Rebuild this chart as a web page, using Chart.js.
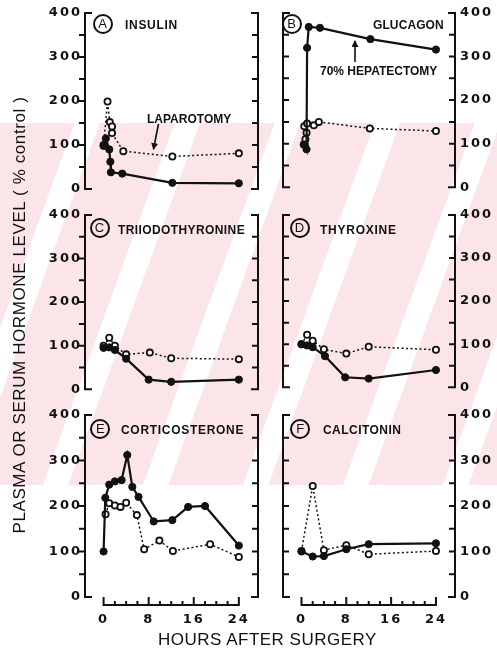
<!DOCTYPE html>
<html>
<head>
<meta charset="utf-8">
<script src="https://cdn.jsdelivr.net/npm/chart.js@4/dist/chart.umd.min.js"></script>
<style>
html,body{margin:0;padding:0;background:#fff;}
#wrap{position:relative;width:497px;height:652px;overflow:hidden;background:#fff;}
.wm{position:absolute;left:0;top:123px;width:497px;height:362px;
  background:repeating-linear-gradient(110deg,#fce5e8 0 70px,#ffffff 70px 94px);}
canvas{position:absolute;}
.lbl{position:absolute;font-family:"Liberation Sans",Arial,sans-serif;font-weight:bold;font-size:12px;line-height:12px;color:#111;white-space:nowrap;}
.circ{position:absolute;box-sizing:border-box;width:20px;height:20px;border:2px solid #111;border-radius:50%;
  font-family:"Liberation Sans",Arial,sans-serif;font-size:13px;line-height:16px;text-align:center;color:#111;}
.ytitle{position:absolute;left:-200px;top:305px;width:440px;height:20px;line-height:20px;text-align:center;
  font-family:"Liberation Sans",Arial,sans-serif;font-size:17px;letter-spacing:0.6px;color:#111;white-space:nowrap;
  transform:rotate(-90deg);}
.xtitle{position:absolute;left:158px;top:630px;height:20px;line-height:20px;
  font-family:"Liberation Sans",Arial,sans-serif;font-size:17px;letter-spacing:0.5px;color:#111;white-space:nowrap;}
</style>
</head>
<body>
<div id="wrap">
  <div class="wm"></div>
  <canvas id="cA" width="270" height="200" style="left:0px;top:0px"></canvas>
  <canvas id="cB" width="227" height="200" style="left:270px;top:0px"></canvas>
  <canvas id="cC" width="270" height="200" style="left:0px;top:200px"></canvas>
  <canvas id="cD" width="227" height="200" style="left:270px;top:200px"></canvas>
  <canvas id="cE" width="270" height="252" style="left:0px;top:400px"></canvas>
  <canvas id="cF" width="227" height="252" style="left:270px;top:400px"></canvas>

  <div class="circ" style="left:92.5px;top:14px">A</div>
  <div class="lbl" style="left:125px;top:19px;letter-spacing:0.7px">INSULIN</div>
  <div class="lbl" style="left:147px;top:112.5px;letter-spacing:0px">LAPAROTOMY</div>

  <div class="circ" style="left:281.5px;top:14px">B</div>
  <div class="lbl" style="left:373px;top:18.5px;letter-spacing:0.1px">GLUCAGON</div>
  <div class="lbl" style="left:320px;top:65px;letter-spacing:0px">70% HEPATECTOMY</div>

  <div class="circ" style="left:89.5px;top:217.5px">C</div>
  <div class="lbl" style="left:118px;top:223.5px;letter-spacing:0.4px">TRIIODOTHYRONINE</div>

  <div class="circ" style="left:289.5px;top:218px">D</div>
  <div class="lbl" style="left:320px;top:223.5px;letter-spacing:0.75px">THYROXINE</div>

  <div class="circ" style="left:90.3px;top:418.7px">E</div>
  <div class="lbl" style="left:121px;top:423.5px;letter-spacing:0.7px">CORTICOSTERONE</div>

  <div class="circ" style="left:290.3px;top:419px">F</div>
  <div class="lbl" style="left:323px;top:423.5px;letter-spacing:0.45px">CALCITONIN</div>

  <div class="ytitle">PLASMA OR SERUM HORMONE LEVEL ( % control )</div>
  <div class="xtitle">HOURS AFTER SURGERY</div>

  <svg width="497" height="652" style="position:absolute;left:0;top:0;pointer-events:none">
    <defs>
      <marker id="ah" markerUnits="userSpaceOnUse" markerWidth="7" markerHeight="7" refX="6" refY="3.5" orient="auto">
        <path d="M0,0 L7,3.5 L0,7 z" fill="#111"/>
      </marker>
    </defs>
    <line x1="158.5" y1="124" x2="153.5" y2="149" stroke="#111" stroke-width="1.6" marker-end="url(#ah)"/>
    <line x1="355" y1="62" x2="355" y2="41" stroke="#111" stroke-width="1.6" marker-end="url(#ah)"/>
  </svg>
</div>

<script>
// ---------- data (hours after surgery, level as % of control) ----------
// A  Insulin
const insulinHepHours = [0, 0.4, 1, 1.2, 1.3, 3.3, 12.2, 24];
const insulinHepLevel = [98, 115, 90, 62, 38, 35, 14, 13];
const insulinLapHours = [0, 0.7, 1.1, 1.5, 1.5, 3.5, 12.2, 24];
const insulinLapLevel = [100, 199, 152, 142, 127, 86, 74, 81];
// B  Glucagon
const glucagonHepHours = [0.6, 0.9, 1.0, 1.3, 3.3, 12.3, 24];
const glucagonHepLevel = [98, 87, 320, 368, 366, 340, 316];
const glucagonLapHours = [0.4, 0.7, 0.9, 0.5, 1.0, 2.2, 3.1, 12.2, 24];
const glucagonLapLevel = [98, 110, 125, 140, 146, 142, 150, 135, 129];
// C  Triiodothyronine
const t3HepHours = [0, 1, 2, 4, 8, 12, 24];
const t3HepLevel = [95, 96, 90, 70, 22, 17, 22];
const t3LapHours = [0, 1, 2, 4, 8.2, 12, 24];
const t3LapLevel = [100, 118, 100, 80, 84, 71, 69];
// D  Thyroxine
const t4HepHours = [0, 1, 2, 4.2, 7.8, 12, 24];
const t4HepLevel = [100, 97, 93, 72, 23, 20, 40];
const t4LapHours = [0, 1, 2, 4, 8, 12, 24];
const t4LapLevel = [100, 122, 108, 88, 78, 94, 87];
// E  Corticosterone
const corticoHepHours = [0, 0.3, 1, 2, 3.2, 4.2, 5.1, 6.2, 8.9, 12.2, 15, 18, 24];
const corticoHepLevel = [100, 218, 247, 254, 257, 312, 242, 220, 166, 169, 198, 200, 113];
const corticoLapHours = [0.35, 1, 2, 3, 4, 5.9, 7.2, 9.9, 12.3, 18.9, 24];
const corticoLapLevel = [182, 206, 201, 198, 207, 180, 105, 124, 101, 116, 88];
// F  Calcitonin
const calcitoninHepHours = [0, 2, 4, 8, 12, 24];
const calcitoninHepLevel = [100, 89, 90, 105, 116, 118];
const calcitoninLapHours = [0, 2, 4, 8, 12, 24];
const calcitoninLapLevel = [101, 244, 103, 114, 94, 101];

// tick labels
const levelTicks = [0, 100, 200, 300, 400];
const hourTicks = [0, 8, 16, 24];
const hourMinorStep = 2;

// ---------- drawing ----------
const INK = '#111';
const pts = (xs, ys) => xs.map((x, i) => ({x: x, y: ys[i]}));

const framePlugin = {
  id: 'frame',
  beforeDraw(chart) { chart.ctx.letterSpacing = '2px'; },
  afterDraw(chart, args, o) {
    const ctx = chart.ctx, a = chart.chartArea, ys = chart.scales.y, xs = chart.scales.x;
    ctx.save();
    ctx.letterSpacing = '0px';
    ctx.strokeStyle = INK; ctx.lineWidth = 2; ctx.lineCap = 'butt';
    const yTop = ys.getPixelForValue(400), yBot = ys.getPixelForValue(0);
    [['left', a.left, 1], ['right', a.right, -1]].forEach(([side, x, inw]) => {
      const dir = o[side];
      ctx.beginPath();
      ctx.moveTo(x + inw * 7, yTop); ctx.lineTo(x, yTop); ctx.lineTo(x, yBot); ctx.lineTo(x + inw * 7, yBot);
      for (let v = 50; v < 400; v += 50) {
        const p = ys.getPixelForValue(v);
        ctx.moveTo(x, p); ctx.lineTo(x + dir * 6, p);
      }
      ctx.stroke();
    });
    if (o.xAxis) {
      const yl = a.bottom + 8;
      const x0 = xs.getPixelForValue(0), x1 = xs.getPixelForValue(24);
      ctx.beginPath();
      ctx.moveTo(x0 - 1, yl); ctx.lineTo(x1 + 1, yl);
      for (let h = 0; h <= 24; h += hourMinorStep) {
        const px = xs.getPixelForValue(h);
        const len = hourTicks.includes(h) ? 8 : 4;
        ctx.moveTo(px, yl); ctx.lineTo(px, yl - len);
      }
      ctx.stroke();
    }
    ctx.restore();
  }
};

const tickFont = {family: 'DejaVu Sans', weight: 'bold', size: 13};

function makePanel(id, cfg) {
  const isLeft = cfg.col === 0;
  const bottomRow = cfg.row === 2;
  const padding = {
    top: cfg.row === 0 ? 13 : 15,
    bottom: cfg.row === 0 ? 11 : (cfg.row === 1 ? 9 : 0),
    left: isLeft ? 0 : 13,
    right: isLeft ? 12 : 0
  };
  new Chart(document.getElementById(id), {
    type: 'scatter',
    data: {
      datasets: [
        {
          label: 'Hepatectomy',
          data: pts(cfg.hepX, cfg.hepY),
          showLine: true, tension: 0,
          borderColor: INK, borderWidth: 2.2,
          pointRadius: 3.6, pointBackgroundColor: INK, pointBorderColor: INK, pointBorderWidth: 1
        },
        {
          label: 'Laparotomy',
          data: pts(cfg.lapX, cfg.lapY),
          showLine: true, tension: 0,
          borderColor: INK, borderWidth: 1.5, borderDash: [2, 2.5],
          pointRadius: 3.1, pointBackgroundColor: '#fff', pointBorderColor: INK, pointBorderWidth: 1.8
        }
      ]
    },
    options: {
      responsive: false,
      animation: false,
      devicePixelRatio: 1,
      layout: {padding: padding},
      plugins: {legend: {display: false}, tooltip: {enabled: false},
        frame: {left: isLeft ? -1 : 1, right: -1, xAxis: bottomRow}},
      scales: {
        x: {
          type: 'linear', min: -3.3, max: 27.4,
          display: bottomRow,
          grid: {display: false, drawTicks: false},
          border: {display: false},
          ticks: {font: tickFont, color: INK, padding: 15, autoSkip: false, maxRotation: 0},
          afterBuildTicks: s => { s.ticks = hourTicks.map(v => ({value: v})); },
          afterFit: s => { s.height = bottomRow ? 55 : 0; }
        },
        y: {
          type: 'linear', min: 0, max: 400,
          position: isLeft ? 'left' : 'right',
          grid: {display: false, drawTicks: false},
          border: {display: false},
          ticks: {font: tickFont, color: INK, padding: isLeft ? 3 : 5},
          afterBuildTicks: s => { s.ticks = levelTicks.map(v => ({value: v})); },
          afterFit: s => { s.width = isLeft ? 85 : 42; }
        }
      }
    },
    plugins: [framePlugin]
  });
}

makePanel('cA', {row: 0, col: 0, hepX: insulinHepHours, hepY: insulinHepLevel, lapX: insulinLapHours, lapY: insulinLapLevel});
makePanel('cB', {row: 0, col: 1, hepX: glucagonHepHours, hepY: glucagonHepLevel, lapX: glucagonLapHours, lapY: glucagonLapLevel});
makePanel('cC', {row: 1, col: 0, hepX: t3HepHours, hepY: t3HepLevel, lapX: t3LapHours, lapY: t3LapLevel});
makePanel('cD', {row: 1, col: 1, hepX: t4HepHours, hepY: t4HepLevel, lapX: t4LapHours, lapY: t4LapLevel});
makePanel('cE', {row: 2, col: 0, hepX: corticoHepHours, hepY: corticoHepLevel, lapX: corticoLapHours, lapY: corticoLapLevel});
makePanel('cF', {row: 2, col: 1, hepX: calcitoninHepHours, hepY: calcitoninHepLevel, lapX: calcitoninLapHours, lapY: calcitoninLapLevel});
</script>
</body>
</html>
